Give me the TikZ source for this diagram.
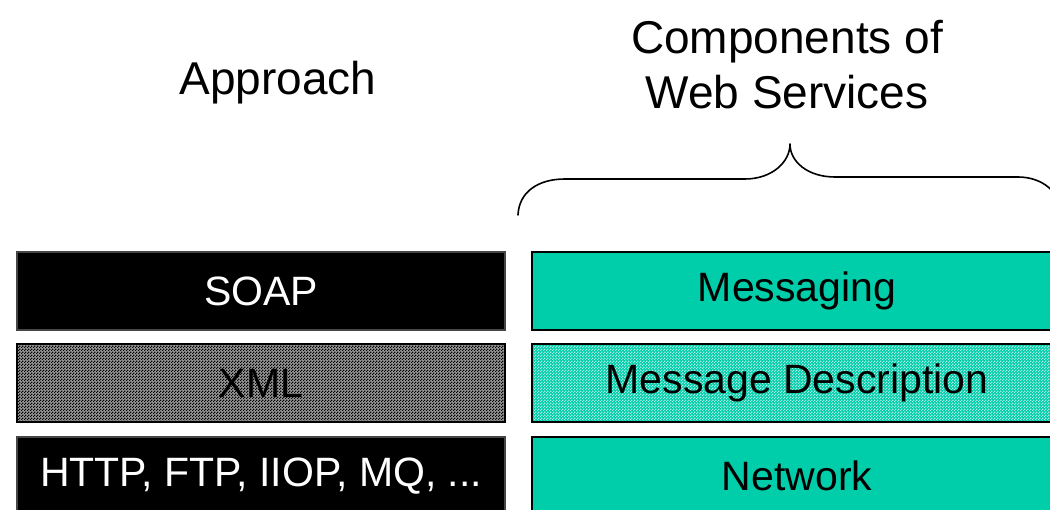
\documentclass[tikz,border=0pt]{standalone}
\usepackage{fontspec}
\setmainfont{Liberation Sans}
\usetikzlibrary{patterns}

% fine two-by-two checker used for the dithered layers
\pgfdeclarepatternformonly{finecheck}{\pgfqpoint{0pt}{0pt}}{\pgfqpoint{3pt}{3pt}}{\pgfqpoint{3pt}{3pt}}{%
  \pgfpathrectangle{\pgfqpoint{0pt}{0pt}}{\pgfqpoint{1.5pt}{1.5pt}}%
  \pgfpathrectangle{\pgfqpoint{1.5pt}{1.5pt}}{\pgfqpoint{1.5pt}{1.5pt}}%
  \pgfusepath{fill}}

\definecolor{wsteal}{RGB}{0,206,170}
\definecolor{edgegray}{RGB}{70,70,70}

\begin{document}
\begin{tikzpicture}[x=1pt,y=-1pt,
  layer/.style={rectangle, inner sep=0pt, line width=1.3pt,
    minimum height=78pt, font=\fontsize{41}{49}\selectfont},
  leftlayer/.style={layer, minimum width=488pt},
  rightlayer/.style={layer, minimum width=530pt},
  solidblack/.style={fill=black, draw=edgegray, text=white},
  dithergray/.style={draw=black, preaction={fill=black!40},
    pattern=finecheck, pattern color=black, text=black},
  solidteal/.style={fill=wsteal, draw=black, text=black},
  ditherteal/.style={draw=black, preaction={fill=wsteal},
    pattern=finecheck, pattern color=white!65!wsteal, text=black},
  heading/.style={inner sep=0pt, font=\fontsize{46}{55}\selectfont, align=center},
  bracestroke/.style={line width=1.6pt, line cap=round, line join=round}
]
\useasboundingbox (0,0) rectangle (1050,510);
\clip (0,0) rectangle (1050,510);

% column headings
\node[heading, anchor=base] (approach) at (278,95) {Approach};
\node[heading] (components) at (787,65) {Components of\\Web Services};

% protocol stack on the left
\node[leftlayer, solidblack] (soap) at (261,291) {SOAP};
\node[leftlayer, dithergray] (xml) at (261,383) {XML};
\node[leftlayer, solidblack] (transport) at (261,476) {HTTP, FTP, IIOP, MQ, ...};

% web service components on the right
\node[rightlayer, solidteal] (messaging) at (797,291) {Messaging};
\node[rightlayer, ditherteal] (description) at (797,383) {Message Description};
\node[rightlayer, solidteal] (network) at (797,476) {Network};

% curly brace grouping the components
\coordinate (braceL) at (518,215);
\coordinate (braceTip) at (790,144);
\coordinate (braceR) at (1062,215);
\draw[bracestroke] (braceL)
  .. controls (519,192) and (538,179) .. (565,179) -- (745,179)
  .. controls (772,179) and (790,162) .. (braceTip)
  .. controls (790,162) and (808,177) .. (835,177) -- (1018,177)
  .. controls (1042,177) and (1061,192) .. (braceR);
\end{tikzpicture}
\end{document}
